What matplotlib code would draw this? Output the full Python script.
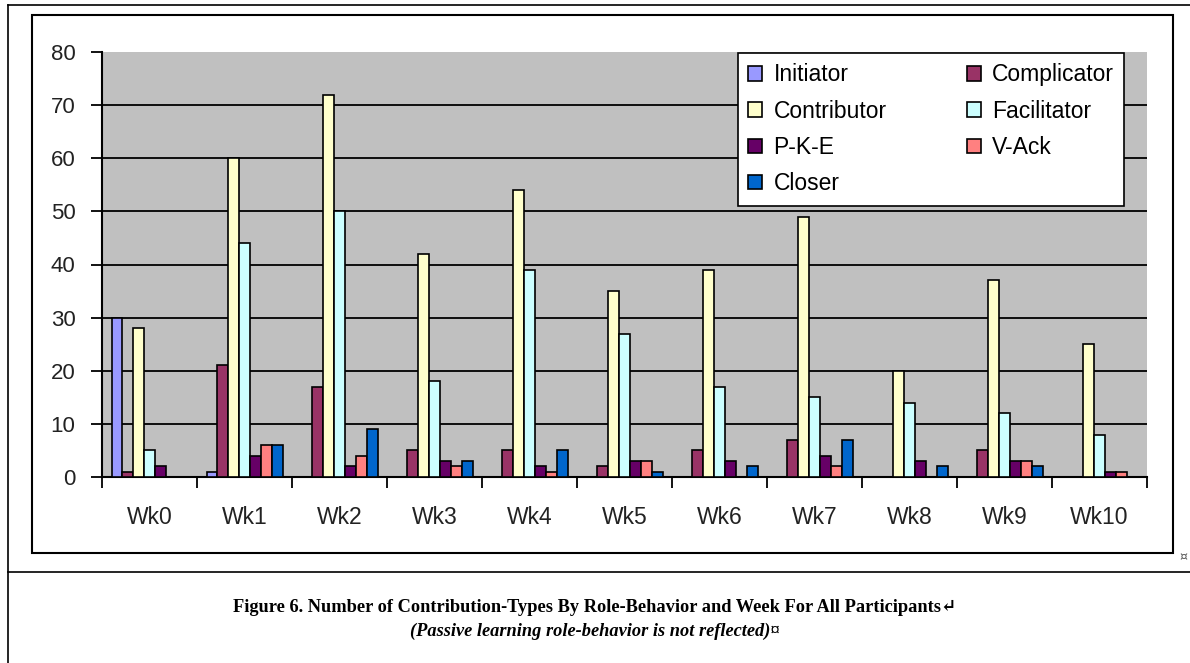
import matplotlib.pyplot as plt
import numpy as np
from matplotlib.patches import Rectangle
from matplotlib.lines import Line2D

weeks = ['Wk0', 'Wk1', 'Wk2', 'Wk3', 'Wk4', 'Wk5', 'Wk6', 'Wk7', 'Wk8', 'Wk9', 'Wk10']
initiator = [30, 1, 0, 0, 0, 0, 0, 0, 0, 0, 0]
complicator = [1, 21, 17, 5, 5, 2, 5, 7, 0, 5, 0]
contributor = [28, 60, 72, 42, 54, 35, 39, 49, 20, 37, 25]
facilitator = [5, 44, 50, 18, 39, 27, 17, 15, 14, 12, 8]
pke = [2, 4, 2, 3, 2, 3, 3, 4, 3, 3, 1]
vack = [0, 6, 4, 2, 1, 3, 0, 2, 0, 3, 1]
closer = [0, 6, 9, 3, 5, 1, 2, 7, 2, 2, 0]

names = ['Initiator', 'Complicator', 'Contributor', 'Facilitator', 'P-K-E', 'V-Ack', 'Closer']
series = [initiator, complicator, contributor, facilitator, pke, vack, closer]
colors = ['#9999FF', '#993366', '#FFFFCC', '#CCFFFF', '#660066', '#FF8080', '#0066CC']

W, H = 1190, 663
fig = plt.figure(figsize=(W / 100, H / 100), dpi=100)

def fx(px):
    return px / W

def fy(py):
    return 1 - py / H

# page / table borders
fig.add_artist(Line2D([fx(8), 1], [fy(5), fy(5)], color='black', lw=1.2))
fig.add_artist(Line2D([fx(8), fx(8)], [fy(5), 0], color='black', lw=1.2))
fig.add_artist(Line2D([fx(8), 1], [fy(572), fy(572)], color='black', lw=1.2))
# chart box
fig.add_artist(Rectangle((fx(32), fy(553)), fx(1173) - fx(32), fy(15) - fy(553),
                         fill=False, edgecolor='black', lw=1.5))

ax = fig.add_axes([fx(102), fy(477), fx(1147) - fx(102), fy(52) - fy(477)])
ax.set_facecolor('#C0C0C0')

x = np.arange(len(weeks))
w = 0.8 / len(series)
bars = []
for j, (vals, c) in enumerate(zip(series, colors)):
    b = ax.bar(x + (j - 3) * w, vals, width=w, color=c, edgecolor='black', linewidth=1.2, zorder=3)
    bars.append(b)

ax.set_xlim(-0.5, len(weeks) - 0.5)
ax.set_ylim(0, 80)
ax.set_yticks(range(0, 81, 10))
ax.yaxis.grid(True, color='black', linewidth=1.3, zorder=1)
ax.get_ygridlines()[-1].set_visible(False)
ax.set_axisbelow(True)

ax.set_xticks(np.arange(-0.5, len(weeks)), labels=[''] * (len(weeks) + 1))
ax.set_xticks(x, labels=weeks, minor=True)
ax.tick_params(axis='x', which='major', length=8, width=1.3, direction='out')
ax.tick_params(axis='x', which='minor', length=0, pad=21, labelsize=16.5)
ax.tick_params(axis='y', length=8, width=1.3, pad=11, labelsize=16)
for lab in ax.get_xticklabels(minor=True) + ax.get_yticklabels():
    lab.set_fontfamily('Liberation Sans')
    lab.set_color('#222222')

for s in ['top', 'right']:
    ax.spines[s].set_visible(False)
for s in ['left', 'bottom']:
    ax.spines[s].set_linewidth(1.5)

# legend, filled row by row
order = [0, 2, 4, 6, 1, 3, 5]
leg = fig.legend([bars[i] for i in order], [names[i] for i in order], ncol=2,
                 loc='upper left', bbox_to_anchor=(fx(738), fy(53)),
                 prop={'family': 'Liberation Sans', 'size': 16.5},
                 frameon=True, fancybox=False, edgecolor='black', framealpha=1,
                 handlelength=0.6, handleheight=0.6, handletextpad=0.5,
                 columnspacing=3.5, labelspacing=0.58, borderpad=0.45,
                 borderaxespad=0)
leg.get_frame().set_linewidth(1.2)

fig.text(fx(1183), fy(557), '¤', fontsize=9, color='#555555', ha='center', va='center')

fig.text(0.5, fy(608), 'Figure 6. Number of Contribution-Types By Role-Behavior and Week For All Participants\u21b5',
         ha='center', va='center', fontsize=13.2, fontweight='bold',
         family=['Liberation Serif', 'DejaVu Serif'])
fig.text(0.5, fy(631), '(Passive learning role-behavior is not reflected)¤',
         ha='center', va='center', fontsize=13.2, fontweight='bold', fontstyle='italic',
         family=['Liberation Serif', 'DejaVu Serif'])

fig.savefig('out.png', dpi=100)
